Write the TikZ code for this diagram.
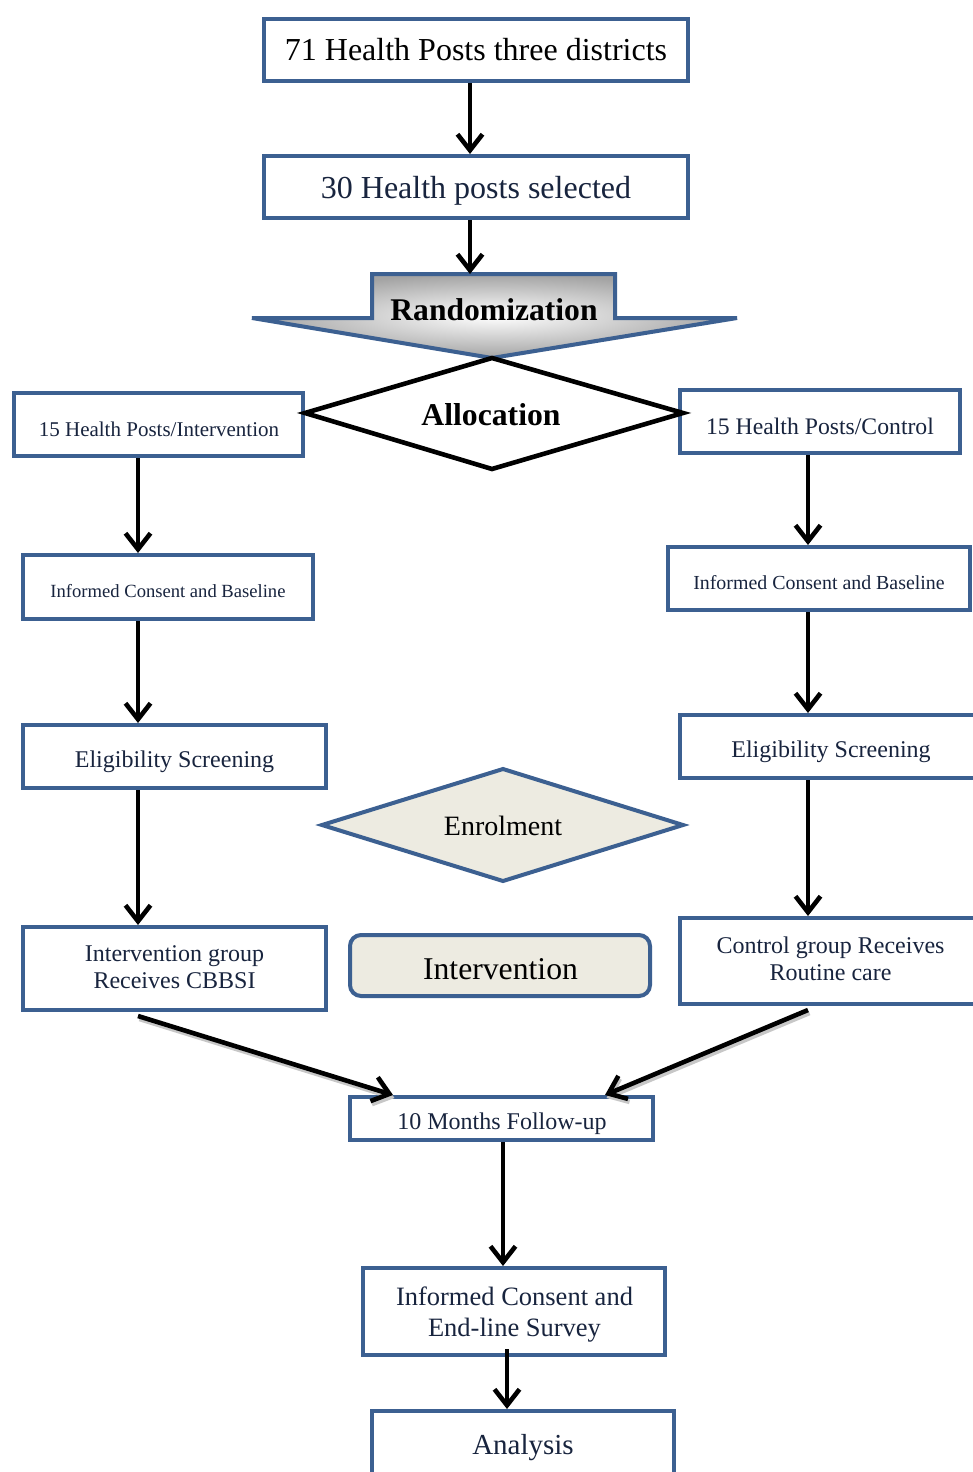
\documentclass[tikz,border=0pt]{standalone}
\usepackage{fontspec}
\setmainfont{Liberation Serif}
\usetikzlibrary{arrows.meta}
\definecolor{bord}{RGB}{60,96,145}
\definecolor{navy}{RGB}{24,36,62}
\definecolor{beige}{RGB}{237,235,225}
\begin{document}
\begin{tikzpicture}[x=1pt,y=-1pt,
  box/.style={draw=bord, line width=4pt, fill=white, inner sep=0pt},
  txt/.style={text=navy, align=center, inner sep=0pt},
  arr/.style={line width=4.6pt, draw=black, -{Straight Barb[length=16pt,width=25pt]}},
  shad/.style={line width=4.6pt, draw=black!22, -{Straight Barb[length=16pt,width=25pt]}}
]
\useasboundingbox (0,0) rectangle (973,1472);
\fill[white] (0,0) rectangle (973,1472);

% column coordinates
\coordinate (xm) at (470,0);
\coordinate (xl) at (138,0);
\coordinate (xr) at (808,0);
\coordinate (xb) at (503,0);
\coordinate (xc) at (507,0);
\coordinate (d1) at (393,0);
\coordinate (d2) at (605,0);

% top boxes
\node[box, minimum width=424pt, minimum height=62pt] (b1) at (476,50) {};
\node[txt, text=black, font=\fontsize{32}{36}\selectfont] (t1) at (476,50) {71 Health Posts three districts};
\node[box, minimum width=424pt, minimum height=62pt] (b2) at (476,187) {};
\node[txt, font=\fontsize{32}{36}\selectfont] (t2) at (476,191) {30 Health posts selected};

% randomization arrow shape
\coordinate (rtop) at (470,274);
\shadedraw[draw=bord, line width=4pt, inner color=white, outer color=gray!72]
  (372,274) -- (615,274) -- (615,318) -- (737,318) -- (492,358) -- (252,318) -- (372,318) -- cycle;
\node[font=\bfseries\fontsize{31.6}{36}\selectfont] (rz) at (494,310) {Randomization};

% branch boxes
\node[box, minimum width=289pt, minimum height=63pt] (b5) at (158.5,424.5) {};
\node[txt, font=\fontsize{21}{24}\selectfont] (t5) at (159,429.5) {15 Health Posts/Intervention};
\node[box, minimum width=280pt, minimum height=63pt] (b6) at (820,421.5) {};
\node[txt, font=\fontsize{23.7}{27}\selectfont] (t6) at (820,426.5) {15 Health Posts/Control};

% allocation diamond
\draw[line width=4.6pt, fill=white] (492,358) -- (683,413) -- (492,469) -- (305,413) -- cycle;
\node[font=\bfseries\fontsize{31.7}{36}\selectfont] (alloc) at (491,415) {Allocation};

\node[box, minimum width=290pt, minimum height=64pt] (b7) at (168,587) {};
\node[txt, font=\fontsize{18.6}{21}\selectfont] (t7) at (168,591) {Informed Consent and Baseline};
\node[box, minimum width=302pt, minimum height=63pt] (b8) at (819,578.5) {};
\node[txt, font=\fontsize{19.9}{23}\selectfont] (t8) at (819,582.5) {Informed Consent and Baseline};

\node[box, minimum width=303pt, minimum height=63pt] (b9) at (174.5,756.5) {};
\node[txt, font=\fontsize{24}{27}\selectfont] (t9) at (174.5,762) {Eligibility Screening};
\node[box, minimum width=298pt, minimum height=63pt] (b10) at (829,746.5) {};
\node[txt, font=\fontsize{24}{27}\selectfont] (t10) at (831,752) {Eligibility Screening};

% enrolment diamond
\draw[draw=bord, line width=4pt, fill=beige] (322,825) -- (503,769) -- (683,825) -- (503,881) -- cycle;
\node[font=\fontsize{28}{32}\selectfont] (enr) at (503,826) {Enrolment};

\node[box, minimum width=303pt, minimum height=83pt] (b12) at (174.5,968.5) {};
\node[txt, font=\fontsize{24}{27}\selectfont] (t12) at (174.5,967) {Intervention group\\Receives CBBSI};
\node[box, fill=beige, rounded corners=11pt, minimum width=300pt, minimum height=61pt] (b13) at (500,965.5) {};
\node[txt, text=black, font=\fontsize{31.7}{36}\selectfont] (t13) at (500.5,969.5) {Intervention};
\node[box, minimum width=298pt, minimum height=86pt] (b14) at (829,961) {};
\node[txt, font=\fontsize{24}{27}\selectfont] (t14) at (830.5,959) {Control group Receives\\Routine care};

\node[box, minimum width=303pt, minimum height=43pt] (b16) at (501.5,1118.5) {};
\node[txt, font=\fontsize{24}{27}\selectfont] (t16) at (502,1123.5) {10 Months Follow-up};
\node[box, minimum width=302pt, minimum height=87pt] (b17) at (514,1311.5) {};
\node[txt, font=\fontsize{26.5}{31}\selectfont] (t17) at (514.5,1314.5) {Informed Consent and\\End-line Survey};
\node[box, minimum width=302pt, minimum height=67pt] (b18) at (523,1444.5) {};
\node[txt, font=\fontsize{29}{33}\selectfont] (t18) at (523,1447.5) {Analysis};

% arrows
\draw[arr] (b1.south -| xm) -- (b2.north -| xm);
\draw[arr] (b2.south -| xm) -- (rtop);
\draw[arr] (b5.south -| xl) -- (b7.north -| xl);
\draw[arr] (b7.south -| xl) -- (b9.north -| xl);
\draw[arr] (b9.south -| xl) -- (b12.north -| xl);
\draw[arr] (b6.south -| xr) -- (b8.north -| xr);
\draw[arr] (b8.south -| xr) -- (b10.north -| xr);
\draw[arr] (b10.south -| xr) -- (b14.north -| xr);

\begin{scope}[transform canvas={shift={(1.5pt,-3pt)}}]
\draw[shad] ([yshift=-4pt]b12.south -| xl) -- (b16.north -| d1);
\draw[shad] ([yshift=-4pt]b14.south -| xr) -- (b16.north -| d2);
\end{scope}
\draw[arr] ([yshift=-4pt]b12.south -| xl) -- (b16.north -| d1);
\draw[arr] ([yshift=-4pt]b14.south -| xr) -- (b16.north -| d2);

\draw[arr] (b16.south -| xb) -- (b17.north -| xb);
\draw[arr] ([yshift=8pt]b17.south -| xc) -- (b18.north -| xc);
\end{tikzpicture}
\end{document}
